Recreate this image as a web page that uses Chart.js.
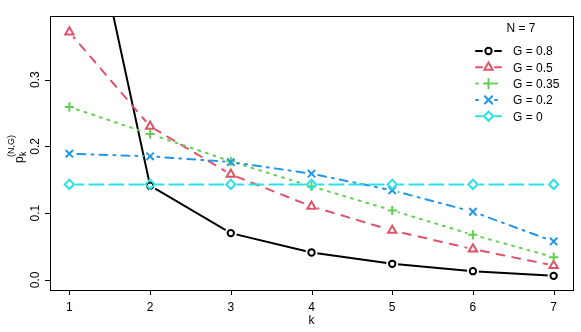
<!DOCTYPE html>
<html lang="en">
<head>
  <meta charset="UTF-8">
  <script src="https://cdn.jsdelivr.net/npm/chart.js"></script>
  <title>p_k for N = 7</title>
  <style>
    body { margin: 0; background: #fff; }
    canvas { display: block; }
  </style>
</head>
<body>

<canvas id="pkChart" width="581" height="332"></canvas>

<script>
  // values
  const kValues = [1, 2, 3, 4, 5, 6, 7];
  const seriesNames = ['G = 0.8', 'G = 0.5', 'G = 0.35', 'G = 0.2', 'G = 0'];
  const g08 = [0.700, 0.141, 0.070, 0.041, 0.024, 0.013, 0.006];
  const g05 = [0.371, 0.230, 0.158, 0.110, 0.074, 0.046, 0.0215];
  const g035 = [0.259, 0.2185, 0.1775, 0.140, 0.104, 0.0675, 0.034];
  const g02 = [0.189, 0.185, 0.1765, 0.159, 0.134, 0.102, 0.0575];
  const g0 = [0.143, 0.143, 0.143, 0.143, 0.143, 0.143, 0.143];
  const xTicks = [1, 2, 3, 4, 5, 6, 7];
  const yTicks = [0, 0.1, 0.2, 0.3];
  const yTickLabels = ['0.0', '0.1', '0.2', '0.3'];
  const legendTitle = 'N = 7';

  const FONT = '"Liberation Sans", Arial, sans-serif';
  const colors = ['#000000', '#DF536B', '#61D04F', '#2297E6', '#28E2E5'];
  const dashes = [[], [8, 8], [2, 6], [2, 6, 8, 6], [14, 6]];
  const shapes = ['circle', 'triangle', 'cross', 'crossRot', 'rectRot'];
  const radii = [3.2, 4.8, 4.6, 5.2, 4.6];
  const allSeries = [g08, g05, g035, g02, g0];

  // each series = one line dataset (with gaps around points, like type="b") + one point dataset
  const datasets = [];
  allSeries.forEach((vals, i) => {
    const pts = vals.map((v, j) => ({ x: kValues[j], y: v }));
    datasets.push({
      label: seriesNames[i] + ' line',
      data: pts,
      showLine: true,
      borderColor: colors[i],
      borderWidth: 2,
      borderDash: dashes[i],
      borderCapStyle: 'round',
      pointRadius: 0,
      gapLine: true,
      order: 20 - 2 * i
    });
    datasets.push({
      label: seriesNames[i],
      data: pts,
      showLine: false,
      pointStyle: shapes[i],
      pointRadius: radii[i],
      pointBorderWidth: 2,
      pointBorderColor: colors[i],
      pointBackgroundColor: 'rgba(0,0,0,0)',
      order: 19 - 2 * i
    });
  });

  const gapPlugin = {
    id: 'gaps',
    beforeDatasetDraw(chart, args) {
      const ds = chart.data.datasets[args.index];
      if (!ds.gapLine) return;
      const ctx = chart.ctx;
      ctx.save();
      ctx.beginPath();
      ctx.rect(0, 0, chart.width, chart.height);
      args.meta.data.forEach(p => {
        ctx.moveTo(p.x + 6, p.y);
        ctx.arc(p.x, p.y, 6, 0, Math.PI * 2);
      });
      ctx.clip('evenodd');
    },
    afterDatasetDraw(chart, args) {
      const ds = chart.data.datasets[args.index];
      if (!ds.gapLine) return;
      chart.ctx.restore();
    }
  };

  // R-style box, axes, labels and legend
  const axesPlugin = {
    id: 'rAxes',
    afterDraw(chart) {
      const ctx = chart.ctx;
      const a = chart.chartArea;
      const xs = chart.scales.x, ys = chart.scales.y;
      ctx.save();
      ctx.strokeStyle = '#000';
      ctx.lineWidth = 1;
      ctx.strokeRect(Math.round(a.left) + 0.5, Math.round(a.top) + 0.5,
        Math.round(a.right - a.left), Math.round(a.bottom - a.top));

      ctx.fillStyle = '#000';
      ctx.font = '12px ' + FONT;
      ctx.beginPath();
      xTicks.forEach(t => {
        const px = Math.round(xs.getPixelForValue(t)) + 0.5;
        ctx.moveTo(px, a.bottom);
        ctx.lineTo(px, a.bottom + 5);
      });
      yTicks.forEach(t => {
        const py = Math.round(ys.getPixelForValue(t)) + 0.5;
        ctx.moveTo(a.left, py);
        ctx.lineTo(a.left - 5, py);
      });
      ctx.stroke();

      ctx.textAlign = 'center';
      ctx.textBaseline = 'alphabetic';
      xTicks.forEach(t => ctx.fillText(String(t), xs.getPixelForValue(t), a.bottom + 21));
      ctx.fillText('k', (a.left + a.right) / 2, a.bottom + 34);

      yTicks.forEach((t, i) => {
        ctx.save();
        ctx.translate(a.left - 11, ys.getPixelForValue(t));
        ctx.rotate(-Math.PI / 2);
        ctx.fillText(yTickLabels[i], 0, 0);
        ctx.restore();
      });

      // y label p_k^(N,G)
      ctx.save();
      ctx.translate(23, (a.top + a.bottom) / 2);
      ctx.rotate(-Math.PI / 2);
      ctx.textAlign = 'left';
      ctx.font = '12px ' + FONT;
      ctx.fillText('p', -10, 0);
      ctx.font = '9px ' + FONT;
      ctx.fillText('k', -3, 2.5);
      ctx.fillText('(N,G)', -4, -9);
      ctx.restore();

      // legend
      ctx.font = '12px ' + FONT;
      ctx.textAlign = 'center';
      ctx.textBaseline = 'middle';
      ctx.fillText(legendTitle, 521, 29);
      ctx.textAlign = 'left';
      seriesNames.forEach((name, i) => {
        const y = 51 + i * 16.3;
        ctx.save();
        ctx.strokeStyle = colors[i];
        ctx.fillStyle = 'rgba(0,0,0,0)';
        ctx.lineWidth = 2;
        ctx.lineCap = 'round';
        ctx.setLineDash(dashes[i]);
        ctx.beginPath();
        ctx.moveTo(476, y);
        ctx.lineTo(482, y);
        ctx.moveTo(495, y);
        ctx.lineTo(501, y);
        ctx.stroke();
        ctx.setLineDash([]);
        Chart.helpers.drawPoint(ctx, {
          pointStyle: shapes[i], radius: radii[i], rotation: 0, borderWidth: 2
        }, 488.5, y);
        ctx.restore();
        ctx.fillStyle = '#000';
        ctx.fillText(name, 513, y + 1);
      });
      ctx.restore();
    }
  };

  const ctx = document.getElementById('pkChart').getContext('2d');
  const chart = new Chart(ctx, {
    type: 'scatter',
    data: { datasets: datasets },
    options: {
      responsive: false,
      animation: false,
      layout: { padding: { left: 50, right: 8, top: 16, bottom: 42 } },
      plugins: { legend: { display: false }, tooltip: { enabled: false } },
      scales: {
        x: { type: 'linear', min: 0.76, max: 7.24, display: false },
        y: { min: -0.0152, max: 0.3952, display: false }
      }
    },
    plugins: [gapPlugin, axesPlugin]
  });
</script>

</body>
</html>
